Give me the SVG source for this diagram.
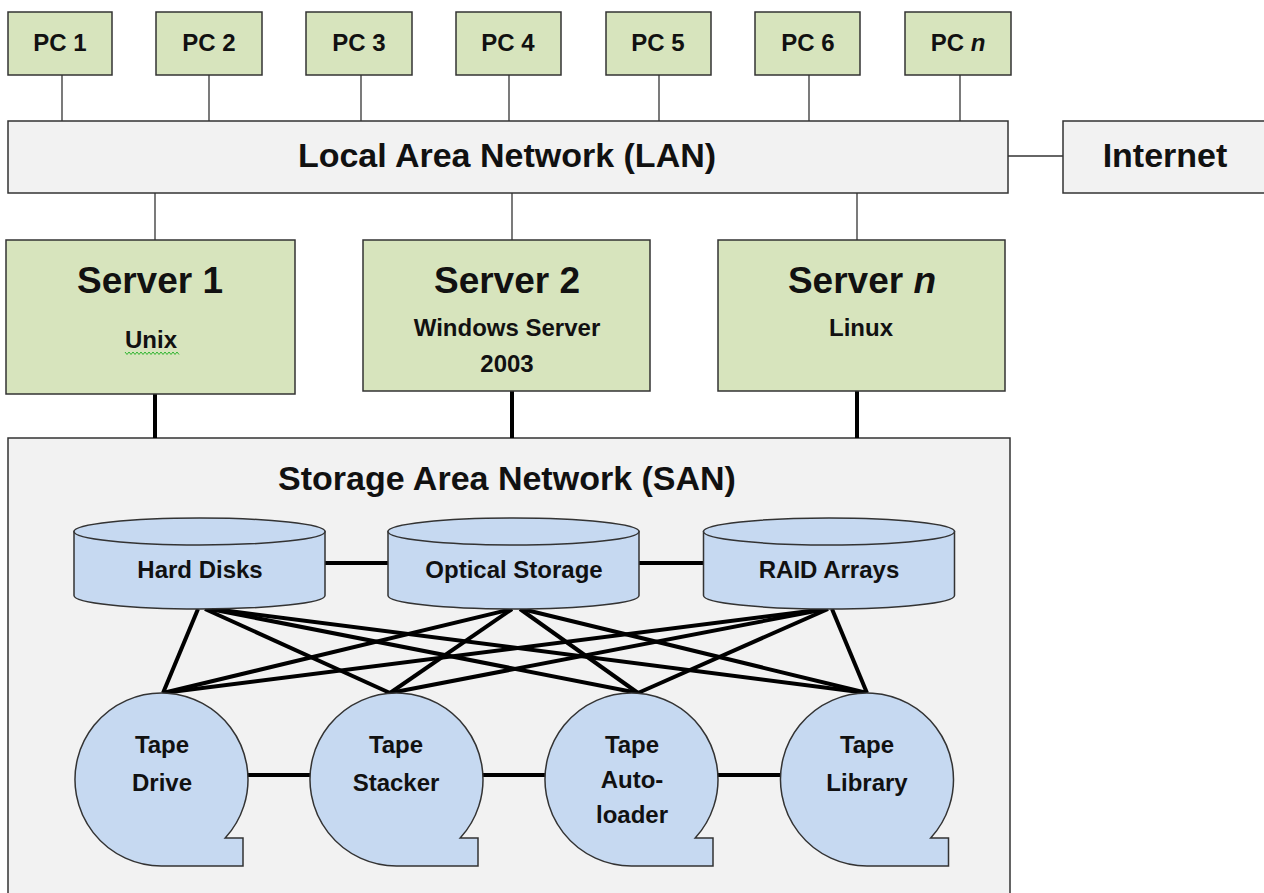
<svg xmlns="http://www.w3.org/2000/svg" xmlns:xlink="http://www.w3.org/1999/xlink" width="1264" height="893" viewBox="0 0 1264 893">
  <style>
    text { font-family: "Liberation Sans", Arial, sans-serif; font-weight: bold; fill: #111; text-anchor: middle; }
    .pc { fill: #d7e4bd; stroke: #333; stroke-width: 1.5; }
    .srv { fill: #d7e4bd; stroke: #333; stroke-width: 1.5; }
    .net { fill: #f2f2f2; stroke: #333; stroke-width: 1.5; }
    .media { fill: #c6d9f1; stroke: #333; stroke-width: 1.5; }
    .thin { stroke: #333; stroke-width: 1.3; fill: none; }
    .thick { stroke: #000; stroke-width: 4; fill: none; }
    .t-pc { font-size: 24px; }
    .t-big { font-size: 34px; }
    .t-srv { font-size: 37px; }
    .t-sub { font-size: 24px; }
    .t-media { font-size: 24px; }
  </style>
  <defs>
    <!-- disk cylinder, origin at centre of top ellipse -->
    <g id="cyl">
      <path d="M-125.5,0 L-125.5,64 A125.5,13.5 0 0 0 125.5,64 L125.5,0 Z" class="media"/>
      <ellipse cx="0" cy="0" rx="125.5" ry="13.5" class="media"/>
    </g>
    <!-- tape reel symbol, origin at circle centre -->
    <path id="tape" d="M0,86.5 A86.5,86.5 0 1 1 63.7,58.5 L81.5,58.5 L81.5,86.5 Z" class="media"/>
  </defs>

  <rect width="1264" height="893" fill="#fff"/>

  <!-- SAN enclosure -->
  <g id="san">
    <rect x="8" y="438" width="1002" height="470" class="net"/>
    <text x="507" y="490" class="t-big">Storage Area Network (SAN)</text>
  </g>

  <g id="connectors">
    <!-- PCs to LAN -->
    <line x1="62" y1="75" x2="62" y2="121" class="thin"/>
    <line x1="209" y1="75" x2="209" y2="121" class="thin"/>
    <line x1="361" y1="75" x2="361" y2="121" class="thin"/>
    <line x1="509" y1="75" x2="509" y2="121" class="thin"/>
    <line x1="659" y1="75" x2="659" y2="121" class="thin"/>
    <line x1="809" y1="75" x2="809" y2="121" class="thin"/>
    <line x1="960" y1="75" x2="960" y2="121" class="thin"/>
    <!-- LAN to Internet -->
    <line x1="1008" y1="156" x2="1063" y2="156" class="thin"/>
    <!-- LAN to servers -->
    <line x1="155" y1="193" x2="155" y2="240" class="thin"/>
    <line x1="512" y1="193" x2="512" y2="240" class="thin"/>
    <line x1="857" y1="193" x2="857" y2="240" class="thin"/>
    <!-- servers to SAN -->
    <line x1="155" y1="393" x2="155" y2="438" class="thick"/>
    <line x1="512" y1="391" x2="512" y2="438" class="thick"/>
    <line x1="857" y1="391" x2="857" y2="438" class="thick"/>
    <!-- between disk stores -->
    <line x1="325" y1="563" x2="388" y2="563" class="thick"/>
    <line x1="639" y1="563" x2="704" y2="563" class="thick"/>
    <!-- disk stores to tape devices -->
    <line x1="198" y1="609" x2="163" y2="693" class="thick"/>
    <line x1="205" y1="609" x2="390" y2="693" class="thick"/>
    <line x1="210" y1="609" x2="638" y2="693" class="thick"/>
    <line x1="214" y1="609" x2="867" y2="693" class="thick"/>
    <line x1="512" y1="609" x2="163" y2="693" class="thick"/>
    <line x1="512" y1="609" x2="390" y2="693" class="thick"/>
    <line x1="520" y1="609" x2="638" y2="693" class="thick"/>
    <line x1="522" y1="609" x2="867" y2="693" class="thick"/>
    <line x1="826" y1="609" x2="163" y2="693" class="thick"/>
    <line x1="826" y1="609" x2="390" y2="693" class="thick"/>
    <line x1="828" y1="609" x2="638" y2="693" class="thick"/>
    <line x1="832" y1="609" x2="867" y2="693" class="thick"/>
    <!-- between tape devices -->
    <line x1="248" y1="775" x2="310" y2="775" class="thick"/>
    <line x1="483" y1="775" x2="545" y2="775" class="thick"/>
    <line x1="718" y1="775" x2="780" y2="775" class="thick"/>
  </g>

  <!-- workstations -->
  <g id="pc1"><rect x="8" y="12" width="104" height="63" class="pc"/><text x="60" y="51" class="t-pc">PC 1</text></g>
  <g id="pc2"><rect x="156" y="12" width="106" height="63" class="pc"/><text x="209" y="51" class="t-pc">PC 2</text></g>
  <g id="pc3"><rect x="306" y="12" width="106" height="63" class="pc"/><text x="359" y="51" class="t-pc">PC 3</text></g>
  <g id="pc4"><rect x="456" y="12" width="105" height="63" class="pc"/><text x="508" y="51" class="t-pc">PC 4</text></g>
  <g id="pc5"><rect x="606" y="12" width="105" height="63" class="pc"/><text x="658" y="51" class="t-pc">PC 5</text></g>
  <g id="pc6"><rect x="755" y="12" width="105" height="63" class="pc"/><text x="808" y="51" class="t-pc">PC 6</text></g>
  <g id="pcn"><rect x="905" y="12" width="106" height="63" class="pc"/><text x="958" y="51" class="t-pc">PC <tspan font-style="italic">n</tspan></text></g>

  <!-- LAN backbone -->
  <g id="lan">
    <rect x="8" y="121" width="1000" height="72" class="net"/>
    <text x="507" y="167" class="t-big">Local Area Network (LAN)</text>
  </g>

  <g id="internet">
    <rect x="1063" y="121" width="210" height="72" class="net"/>
    <text x="1165" y="167" class="t-big">Internet</text>
  </g>

  <!-- servers -->
  <g id="server1">
    <rect x="6" y="240" width="289" height="154" class="srv"/>
    <text x="150" y="293" class="t-srv">Server 1</text>
    <text x="151" y="348" class="t-sub">Unix</text>
    <polyline points="125,352 127,354.5 129,352 131,354.5 133,352 135,354.5 137,352 139,354.5 141,352 143,354.5 145,352 147,354.5 149,352 151,354.5 153,352 155,354.5 157,352 159,354.5 161,352 163,354.5 165,352 167,354.5 169,352 171,354.5 173,352 175,354.5 177,352 179,354.5" fill="none" stroke="#2fb52f" stroke-width="1"/>
  </g>
  <g id="server2">
    <rect x="363" y="240" width="287" height="151" class="srv"/>
    <text x="507" y="293" class="t-srv">Server 2</text>
    <text x="507" y="336" class="t-sub">Windows Server</text>
    <text x="507" y="372" class="t-sub">2003</text>
  </g>
  <g id="servern">
    <rect x="718" y="240" width="287" height="151" class="srv"/>
    <text x="862" y="293" class="t-srv">Server <tspan font-style="italic">n</tspan></text>
    <text x="861" y="336" class="t-sub">Linux</text>
  </g>

  <!-- disk stores -->
  <g id="hard-disks">
    <use xlink:href="#cyl" x="199.5" y="531.5"/>
    <text x="200" y="578" class="t-media">Hard Disks</text>
  </g>
  <g id="optical-storage">
    <use xlink:href="#cyl" x="513.5" y="531.5"/>
    <text x="514" y="578" class="t-media">Optical Storage</text>
  </g>
  <g id="raid-arrays">
    <use xlink:href="#cyl" x="829" y="531.5"/>
    <text x="829" y="578" class="t-media">RAID Arrays</text>
  </g>

  <!-- tape devices -->
  <g id="tape-drive">
    <use xlink:href="#tape" x="161.5" y="779.5"/>
    <text x="162" y="753" class="t-media">Tape</text>
    <text x="162" y="791" class="t-media">Drive</text>
  </g>
  <g id="tape-stacker">
    <use xlink:href="#tape" x="396.5" y="779.5"/>
    <text x="396" y="753" class="t-media">Tape</text>
    <text x="396" y="791" class="t-media">Stacker</text>
  </g>
  <g id="tape-autoloader">
    <use xlink:href="#tape" x="631.5" y="779.5"/>
    <text x="632" y="753" class="t-media">Tape</text>
    <text x="632" y="788" class="t-media">Auto-</text>
    <text x="632" y="823" class="t-media">loader</text>
  </g>
  <g id="tape-library">
    <use xlink:href="#tape" x="867" y="779.5"/>
    <text x="867" y="753" class="t-media">Tape</text>
    <text x="867" y="791" class="t-media">Library</text>
  </g>
</svg>
